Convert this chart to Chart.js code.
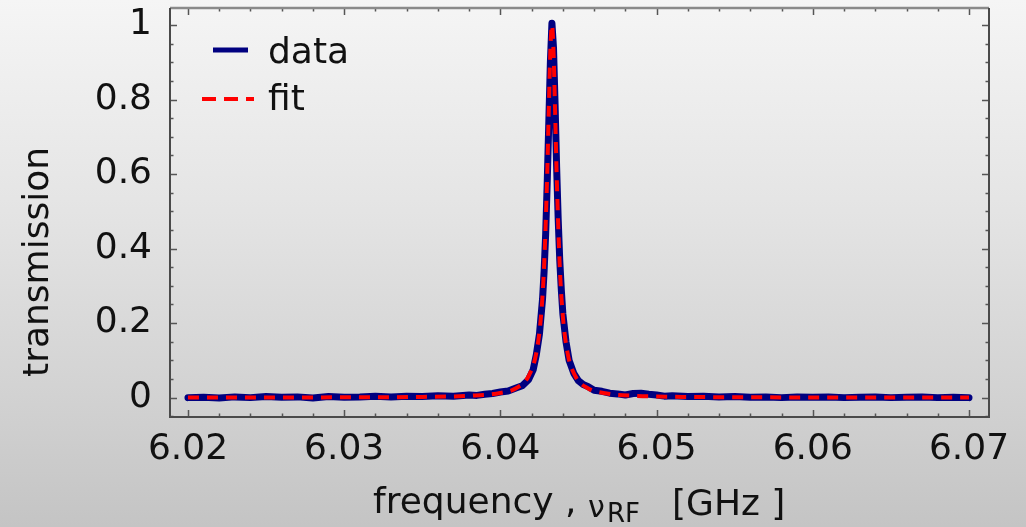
<!DOCTYPE html>
<html>
<head>
<meta charset="utf-8">
<script src="https://cdn.jsdelivr.net/npm/chart.js@4.4.1/dist/chart.umd.min.js"></script>
<style>
  html, body { margin: 0; padding: 0; width: 1026px; height: 527px; overflow: hidden;
    background: linear-gradient(180deg, #f5f5f5 0%, #e4e4e4 40%, #d2d2d2 75%, #c4c4c4 100%); }
  #wrap { position: absolute; left: 0; top: 0; width: 1026px; height: 527px; }
</style>
</head>
<body>
<div id="wrap"><canvas id="c" width="1026" height="527"></canvas></div>
<script>
// ---- data ----
const freqData = [
  6.020, 6.021, 6.022, 6.023, 6.024, 6.025, 6.026, 6.027, 6.028, 6.029,
  6.030, 6.031, 6.032, 6.033, 6.034, 6.035, 6.036, 6.037, 6.038, 6.0385,
  6.039, 6.0395, 6.040, 6.0405, 6.041, 6.0414, 6.0418, 6.0421, 6.0423, 6.0425,
  6.0427, 6.0428, 6.0429, 6.0430, 6.0431, 6.0432, 6.0433, 6.0434, 6.0435, 6.0436,
  6.0437, 6.0438, 6.0439, 6.0440, 6.0442, 6.0444, 6.0447, 6.0450, 6.0453, 6.0456,
  6.0460, 6.0465, 6.0470, 6.0475, 6.0480, 6.0485, 6.0490, 6.0495, 6.0500, 6.0505,
  6.051, 6.052, 6.053, 6.054, 6.055, 6.056, 6.057, 6.058, 6.059, 6.060,
  6.061, 6.062, 6.063, 6.064, 6.065, 6.066, 6.067, 6.068, 6.069, 6.070
];
const transData = [
  0.000, 0.001, -0.001, 0.002, 0.000, 0.003, 0.001, 0.002, -0.001, 0.003,
  0.001, 0.002, 0.004, 0.002, 0.004, 0.003, 0.005, 0.004, 0.007, 0.006,
  0.009, 0.011, 0.015, 0.018, 0.026, 0.032, 0.048, 0.075, 0.115, 0.170,
  0.265, 0.340, 0.440, 0.580, 0.740, 0.900, 1.005, 0.940, 0.790, 0.620,
  0.480, 0.370, 0.290, 0.225, 0.150, 0.100, 0.065, 0.045, 0.035, 0.030,
  0.020, 0.017, 0.012, 0.010, 0.007, 0.011, 0.012, 0.009, 0.007, 0.004,
  0.005, 0.003, 0.004, 0.002, 0.003, 0.001, 0.002, 0.000, 0.002, 0.001,
  0.002, 0.000, 0.001, 0.002, 0.000, 0.001, 0.002, 0.000, 0.001, 0.000
];
const freqFit = [
  6.0200, 6.0250, 6.0300, 6.0350, 6.0380, 6.0400, 6.0410, 6.0418, 6.0423, 6.0426,
  6.0428, 6.0430, 6.0431, 6.0432, 6.0433, 6.0434, 6.0435, 6.0436, 6.0438, 6.0440,
  6.0443, 6.0448, 6.0456, 6.0466, 6.0486, 6.0516, 6.0566, 6.0616, 6.0666, 6.0700
];
const transFit = [
  0.0003, 0.0004, 0.0008, 0.0020, 0.0049, 0.0124, 0.0252, 0.0574, 0.120, 0.218,
  0.354, 0.603, 0.774, 0.932, 1.000, 0.932, 0.774, 0.603, 0.354, 0.218,
  0.120, 0.0574, 0.0252, 0.0124, 0.0049, 0.0020, 0.0008, 0.0004, 0.0003, 0.0002
];
const xTickValues = [6.02, 6.03, 6.04, 6.05, 6.06, 6.07];
const xTickLabels = ['6.02', '6.03', '6.04', '6.05', '6.06', '6.07'];
const yTickValues = [0, 0.2, 0.4, 0.6, 0.8, 1];
const yTickLabels = ['0', '0.2', '0.4', '0.6', '0.8', '1'];
const seriesNames = ['data', 'fit'];

const FONT = '"DejaVu Sans", "Liberation Sans", sans-serif';

const decor = {
  id: 'decor',
  beforeDatasetsDraw(chart) {
    const { ctx, chartArea: a, scales: { x, y } } = chart;
    ctx.save();
    ctx.strokeStyle = '#555';
    ctx.lineWidth = 1.5;
    ctx.beginPath();
    for (let i = 0; i <= 25; i++) {
      const v = 6.02 + i * 0.002;
      const px = Math.round(x.getPixelForValue(v)) + 0.5;
      const len = (i % 5 === 0) ? 7 : 3.5;
      ctx.moveTo(px, a.bottom); ctx.lineTo(px, a.bottom - len);
      ctx.moveTo(px, a.top); ctx.lineTo(px, a.top + len);
    }
    for (let i = -1; i <= 20; i++) {
      const v = i * 0.05;
      const py = Math.round(y.getPixelForValue(v)) + 0.5;
      if (py < a.top || py > a.bottom) continue;
      const len = (i % 4 === 0) ? 7 : 3.5;
      ctx.moveTo(a.left, py); ctx.lineTo(a.left + len, py);
      ctx.moveTo(a.right, py); ctx.lineTo(a.right - len, py);
    }
    ctx.stroke();
    ctx.lineWidth = 2.5;
    ctx.strokeStyle = '#8a8a8a';
    ctx.beginPath(); ctx.moveTo(a.left, a.top); ctx.lineTo(a.right, a.top); ctx.stroke();
    ctx.strokeStyle = '#4a4a4a';
    ctx.lineWidth = 2;
    ctx.beginPath();
    ctx.moveTo(a.left, a.top); ctx.lineTo(a.left, a.bottom); ctx.lineTo(a.right, a.bottom); ctx.lineTo(a.right, a.top);
    ctx.stroke();
    ctx.restore();
  },
  afterDraw(chart) {
    const { ctx } = chart;
    const ds = chart.data.datasets;
    ctx.save();
    ctx.fillStyle = '#111';
    ctx.save();
    ctx.font = '36px ' + FONT;
    ctx.translate(48, 262);
    ctx.rotate(-Math.PI / 2);
    ctx.textAlign = 'center';
    ctx.textBaseline = 'alphabetic';
    ctx.fillText('transmission', 0, 0);
    ctx.restore();
    ctx.textAlign = 'left';
    ctx.textBaseline = 'alphabetic';
    ctx.font = '36px ' + FONT;
    ctx.fillText('frequency ,', 373, 513);
    ctx.font = '30px ' + FONT;
    ctx.fillText('\u03BD', 588, 517);
    ctx.font = '26px ' + FONT;
    ctx.fillText('RF', 607, 522);
    ctx.font = '36px ' + FONT;
    ctx.fillText('[GHz ]', 672, 515);
    ctx.lineCap = 'butt';
    ctx.strokeStyle = ds[0].borderColor;
    ctx.lineWidth = 5;
    ctx.beginPath(); ctx.moveTo(213, 50); ctx.lineTo(248, 50); ctx.stroke();
    ctx.strokeStyle = ds[1].borderColor;
    ctx.lineWidth = 4;
    ctx.setLineDash([14, 8]);
    ctx.beginPath(); ctx.moveTo(202, 99); ctx.lineTo(254, 99); ctx.stroke();
    ctx.setLineDash([]);
    ctx.font = '36px ' + FONT;
    ctx.fillText(ds[0].label, 268, 63);
    ctx.fillText(ds[1].label, 268, 110);
    ctx.restore();
  }
};

new Chart(document.getElementById('c'), {
  type: 'scatter',
  data: {
    datasets: [
      {
        label: seriesNames[0],
        data: freqData.map((f, i) => ({ x: f, y: transData[i] })),
        showLine: true,
        order: 2,
        borderColor: '#000080',
        borderWidth: 7,
        pointRadius: 0,
        tension: 0,
        borderJoinStyle: 'round',
        borderCapStyle: 'round'
      },
      {
        label: seriesNames[1],
        data: freqFit.map((f, i) => ({ x: f, y: transFit[i] })),
        showLine: true,
        order: 1,
        borderColor: '#ff0000',
        borderWidth: 4,
        borderDash: [11, 8],
        pointRadius: 0,
        cubicInterpolationMode: 'monotone'
      }
    ]
  },
  options: {
    responsive: false,
    animation: false,
    devicePixelRatio: 1,
    layout: { padding: { top: 8, right: 37, left: 0, bottom: 0 } },
    plugins: { legend: { display: false }, tooltip: { enabled: false } },
    scales: {
      x: {
        type: 'linear',
        min: 6.01885,
        max: 6.07128,
        grid: { display: false, drawTicks: false },
        border: { display: false },
        afterBuildTicks: s => { s.ticks = xTickValues.map(v => ({ value: v })); },
        afterFit: s => { s.height = 110; s.paddingLeft = 0; s.paddingRight = 0; },
        ticks: {
          padding: 11,
          color: '#111',
          font: { family: FONT, size: 36 },
          maxRotation: 0,
          autoSkip: false,
          callback: (v) => { const i = xTickValues.findIndex(t => Math.abs(t - v) < 1e-9); return i >= 0 ? xTickLabels[i] : ''; }
        }
      },
      y: {
        type: 'linear',
        min: -0.052,
        max: 1.0457,
        grid: { display: false, drawTicks: false },
        border: { display: false },
        afterBuildTicks: s => { s.ticks = yTickValues.map(v => ({ value: v })); },
        afterFit: s => { s.width = 170; s.paddingTop = 0; s.paddingBottom = 0; },
        ticks: {
          padding: 18,
          color: '#111',
          font: { family: FONT, size: 36 },
          autoSkip: false,
          callback: (v) => { const i = yTickValues.findIndex(t => Math.abs(t - v) < 1e-9); return i >= 0 ? yTickLabels[i] : ''; }
        }
      }
    }
  },
  plugins: [decor]
});
</script>
</body>
</html>
